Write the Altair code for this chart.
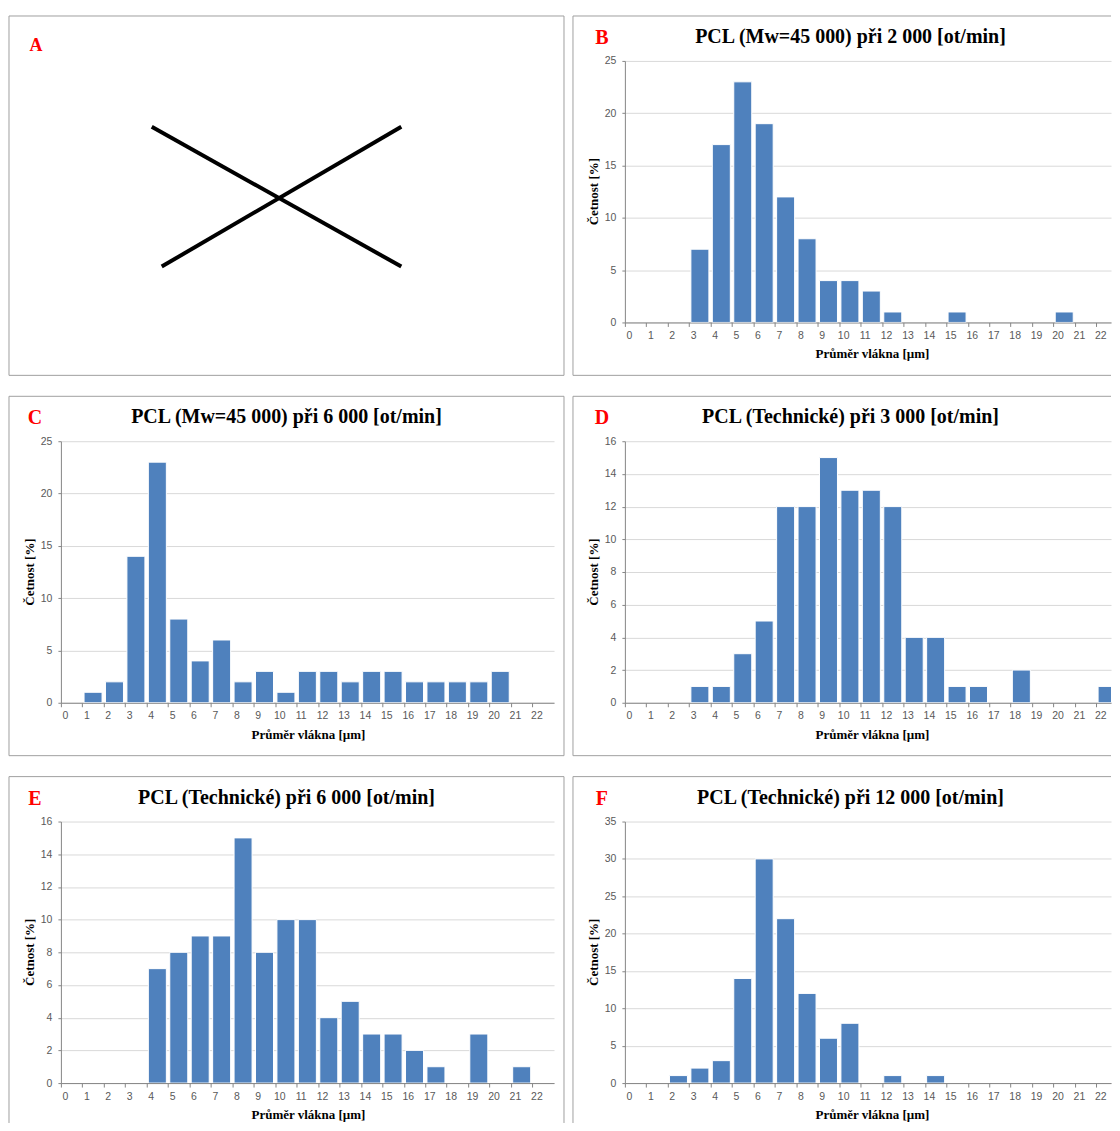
import altair as alt
import pandas as pd

# ---------------- data ----------------
X_TICKS = [0, 1, 2, 3, 4, 5, 6, 7, 8, 9, 10, 11, 12, 13, 14, 15, 16, 17, 18, 19, 20, 21, 22]

B_title = "PCL (Mw=45 000) při 2 000 [ot/min]"
B_bins = [3, 4, 5, 6, 7, 8, 9, 10, 11, 12, 15, 20]
B_vals = [7, 17, 23, 19, 12, 8, 4, 4, 3, 1, 1, 1]
B_yticks = [0, 5, 10, 15, 20, 25]

C_title = "PCL (Mw=45 000) při 6 000 [ot/min]"
C_bins = [1, 2, 3, 4, 5, 6, 7, 8, 9, 10, 11, 12, 13, 14, 15, 16, 17, 18, 19, 20]
C_vals = [1, 2, 14, 23, 8, 4, 6, 2, 3, 1, 3, 3, 2, 3, 3, 2, 2, 2, 2, 3]
C_yticks = [0, 5, 10, 15, 20, 25]

D_title = "PCL (Technické) při 3 000 [ot/min]"
D_bins = [3, 4, 5, 6, 7, 8, 9, 10, 11, 12, 13, 14, 15, 16, 18, 22]
D_vals = [1, 1, 3, 5, 12, 12, 15, 13, 13, 12, 4, 4, 1, 1, 2, 1]
D_yticks = [0, 2, 4, 6, 8, 10, 12, 14, 16]

E_title = "PCL (Technické) při 6 000 [ot/min]"
E_bins = [4, 5, 6, 7, 8, 9, 10, 11, 12, 13, 14, 15, 16, 17, 19, 21]
E_vals = [7, 8, 9, 9, 15, 8, 10, 10, 4, 5, 3, 3, 2, 1, 3, 1]
E_yticks = [0, 2, 4, 6, 8, 10, 12, 14, 16]

F_title = "PCL (Technické) při 12 000 [ot/min]"
F_bins = [2, 3, 4, 5, 6, 7, 8, 9, 10, 12, 14]
F_vals = [1, 2, 3, 14, 30, 22, 12, 6, 8, 1, 1]
F_yticks = [0, 5, 10, 15, 20, 25, 30, 35]

X_LABEL = "Průměr vlákna [µm]"
Y_LABEL = "Četnost [%]"

# ---------------- style / layout ----------------
U = 21.47          # px per micrometre bin
W_L = 494
W_R = 487
H = 262
TOP = -45
BOT = 315
LEFT = -52
SERIF = "Liberation Serif"
SANS = "Liberation Sans"
BLUE = "#4F81BD"
GRID = "#D9D9D9"
AXIS = "#868686"
BORDER = "#A0A0A0"


def one():
    return alt.Data(values=[{"k": 1}])


def rule(x, x2, y, y2, color=BORDER, width=1):
    return alt.Chart(one()).mark_rule(color=color, strokeWidth=width).encode(
        x=alt.value(x), x2=alt.value(x2), y=alt.value(y), y2=alt.value(y2)
    )


def text(s, x, y, size, color="black", angle=0):
    kw = dict(text=s, font=SERIF, fontSize=size, fontWeight="bold", color=color,
              align="center", baseline="middle")
    if angle:
        kw["angle"] = angle
    return alt.Chart(one()).mark_text(**kw).encode(x=alt.value(x), y=alt.value(y))


def borders(W, right_col, last_row):
    bottom = 302 if last_row else BOT
    right = W if right_col else W + 10
    layers = [
        rule(LEFT, right, TOP, TOP),
        rule(LEFT, LEFT, TOP, bottom),
    ]
    if not right_col:
        layers.append(rule(right, right, TOP, bottom))
    if not last_row:
        layers.append(rule(LEFT, right, BOT, BOT))
    return layers


def panel(letter, title, bins, vals, yticks, right_col, last_row):
    W = W_R if right_col else W_L
    df = pd.DataFrame({"d": bins, "v": vals})
    bars = alt.Chart(df).transform_calculate(
        x0="datum.d + 0.08", x1="datum.d + 0.92"
    ).mark_bar(color=BLUE, stroke="white", strokeWidth=1, clip=True, orient="vertical").encode(
        x=alt.X("x0:Q",
                scale=alt.Scale(domain=[0, W / U], nice=False, zero=False, padding=0),
                axis=alt.Axis(values=X_TICKS, title=None, grid=False, labelFlush=False,
                              labelOverlap=False, tickSize=4, labelPadding=4, labelOffset=4,
                              format="d")),
        x2="x1:Q",
        y=alt.Y("v:Q",
                scale=alt.Scale(domain=[yticks[0], yticks[-1]], nice=False, padding=0),
                axis=alt.Axis(values=yticks, title=None, grid=True, tickSize=3,
                              labelPadding=6, labelOverlap=False, format="d")),
        y2=alt.datum(0),
    )
    layers = [bars] + borders(W, right_col, last_row) + [
        text(title, 226, -24, 20),
        text(letter, -23 if right_col else -26, -23, 20, color="#FF0000"),
        text(X_LABEL, 248, 294, 13),
        text(Y_LABEL, -31, 131, 13, angle=270),
    ]
    return alt.layer(*layers).properties(width=W, height=H)


panelA = alt.layer(
    *(borders(W_L, False, False) + [
        text("A", -25, -15, 18, color="#FF0000"),
        rule(91, 341, 66, 206, color="black", width=4),
        rule(101, 341, 206, 66, color="black", width=4),
    ])
).properties(width=W_L, height=H)

panelB = panel("B", B_title, B_bins, B_vals, B_yticks, True, False)
panelC = panel("C", C_title, C_bins, C_vals, C_yticks, False, False)
panelD = panel("D", D_title, D_bins, D_vals, D_yticks, True, False)
panelE = panel("E", E_title, E_bins, E_vals, E_yticks, False, True)
panelF = panel("F", F_title, F_bins, F_vals, F_yticks, True, True)

chart = alt.vconcat(
    alt.hconcat(panelA, panelB, spacing=7),
    alt.hconcat(panelC, panelD, spacing=7),
    alt.hconcat(panelE, panelF, spacing=7),
    spacing=19,
).properties(
    padding={"left": 0, "top": 6, "right": 0, "bottom": 0},
    background="white",
).configure_view(
    strokeWidth=0
).configure_axis(
    labelFont=SANS, labelFontSize=10.5, labelColor="#595959",
    domainColor=AXIS, tickColor=AXIS, gridColor=GRID,
)

chart.save("out.html", embed_options={"renderer": "svg", "actions": False})
